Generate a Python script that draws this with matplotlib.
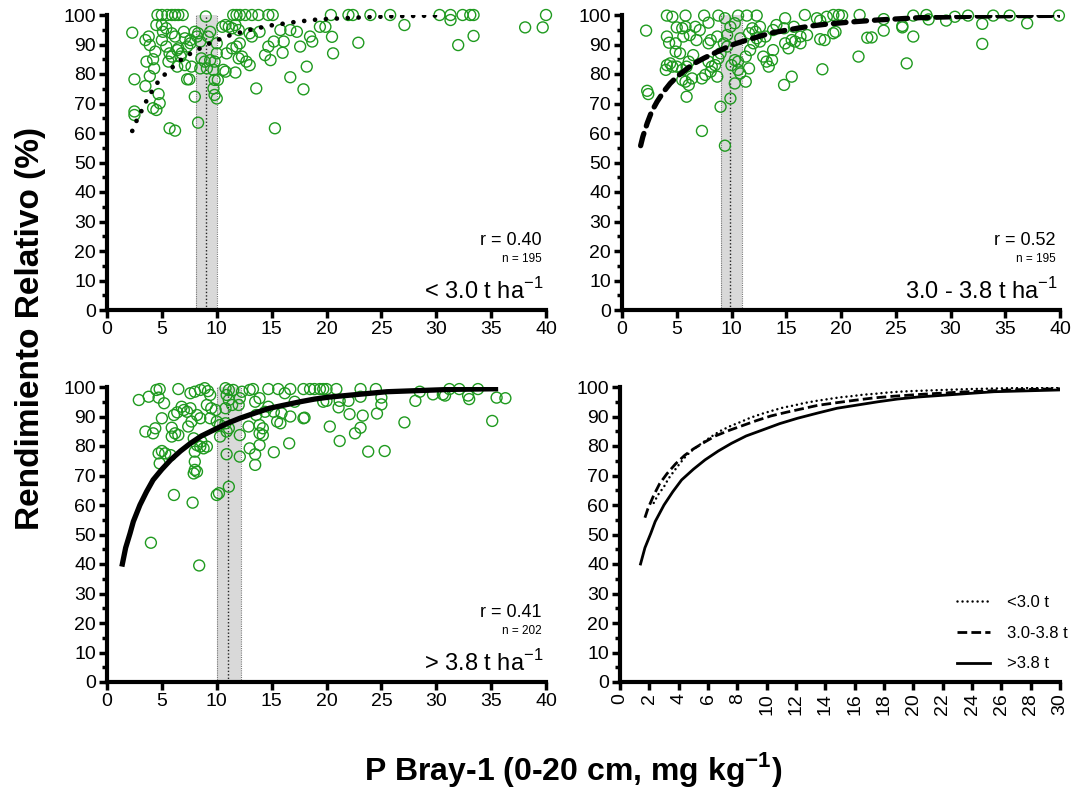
import numpy as np
import matplotlib
matplotlib.use("Agg")
import matplotlib.pyplot as plt
from matplotlib.ticker import MultipleLocator

plt.rcParams['font.family'] = ['Liberation Sans', 'DejaVu Sans']
plt.rcParams['mathtext.fontset'] = 'custom'
plt.rcParams['mathtext.rm'] = 'Liberation Sans'
plt.rcParams['mathtext.bf'] = 'Liberation Sans:bold'

# ---- scatter data ----
# < 3.0 t ha-1
p1_x = [4.6, 5.0, 5.5, 5.9, 6.2, 6.5, 6.9, 9.0, 11.5, 11.8, 12.1, 12.6, 13.2, 13.8, 14.7, 15.1,
        20.4, 22.0, 22.4, 24.0, 25.8, 30.3, 31.3, 32.4, 33.1, 33.4, 40.0,
        2.3, 2.5, 2.5, 2.5, 3.5, 3.8, 3.9, 3.6, 4.4, 4.2, 4.3, 3.5, 3.9, 4.7, 4.8, 4.2, 4.5, 4.5,
        5.1, 5.0, 5.4, 5.9, 5.0, 5.4, 5.7, 5.6, 5.9, 6.2, 6.4, 6.5, 6.7, 6.8, 6.4,
        7.0, 7.1, 7.6, 7.3, 7.6, 7.1, 7.7, 7.3, 7.5, 8.0, 8.3, 8.2, 8.5, 8.0, 5.7, 6.2, 8.3, 8.6, 8.5,
        9.2, 9.4, 8.9, 9.4, 9.1, 9.7, 10.0, 10.0, 9.8, 9.8, 10.1, 9.7, 9.8, 10.0,
        10.5, 10.8, 10.6, 10.8, 11.1, 11.4, 11.7, 12.0, 10.9, 11.4, 11.8, 12.1, 12.0, 12.3, 12.7, 13.0, 11.7,
        13.0, 13.2, 13.9, 13.6, 14.4, 14.9, 15.2, 14.7, 15.8, 16.1, 16.7, 17.3, 17.6, 16.0, 16.7, 17.9,
        18.2, 18.5, 18.7, 19.4, 15.3,
        19.9, 20.5, 22.9, 20.6, 32.0, 33.4, 38.1, 39.7, 31.3, 27.1]
p1_y = [100, 100, 100, 100, 100, 100, 100, 99.5, 100, 100, 100, 100, 100, 100, 100, 100,
        100, 100, 100, 100, 100, 100, 100, 100, 100, 100, 100,
        94.0, 78.2, 67.3, 66.1, 91.5, 92.7, 89.8, 84.2, 87.6, 85.0, 81.9, 75.9, 79.3, 73.2, 70.1, 68.4, 67.8, 96.6,
        94.3, 96.6, 95.5, 93.8, 91.5, 89.3, 87.0, 84.2, 85.9, 92.7, 88.1, 88.7, 85.9, 87.0, 82.5,
        94.3, 92.1, 91.5, 89.3, 90.4, 83.0, 82.5, 78.2, 78.2, 94.3, 93.8, 92.7, 91.0, 72.3, 61.6, 60.8, 63.5, 85.3, 81.9,
        92.7, 94.3, 84.2, 84.7, 81.9, 81.4, 90.4, 87.0, 84.2, 78.0, 78.0, 75.1, 72.9, 71.7,
        96.0, 96.6, 81.4, 80.8, 96.0, 95.5, 96.6, 94.9, 87.0, 88.7, 89.3, 90.4, 85.3, 85.9, 84.2, 83.0, 80.5,
        93.8, 92.7, 94.3, 75.1, 86.4, 84.7, 91.0, 89.3, 94.9, 91.0, 94.9, 94.3, 89.3, 87.2, 78.9, 74.8,
        82.5, 92.7, 91.0, 96.0, 61.6,
        96.0, 92.6, 90.6, 87.0, 89.8, 92.9, 95.8, 95.8, 98.3, 96.6]

# 3.0 - 3.8 t ha-1
p2_x = [2.2, 2.3, 2.4, 4.1, 4.6, 5.8, 7.5, 8.8, 9.4, 10.6, 11.4, 12.3,
        5.0, 5.5, 5.8, 6.7, 4.1, 4.3, 4.9, 5.6, 6.2, 7.1, 7.9, 4.9, 5.3,
        4.1, 4.4, 4.6, 4.0, 5.0, 5.5, 5.9, 6.1, 6.5, 5.5, 5.8, 6.1, 6.4, 5.9,
        6.8, 7.9, 8.1, 8.7, 7.3, 7.6, 8.1, 8.2, 8.5, 8.7, 7.9, 8.8, 9.0,
        9.3, 9.6, 9.9, 10.3, 9.6, 10.0, 10.3, 10.6, 10.6, 10.8, 10.3, 11.3, 9.9, 9.0, 7.3, 9.4,
        10.8, 11.6, 11.9, 12.2, 12.6, 11.3, 11.7, 12.0, 12.3, 12.6, 11.6, 12.9, 13.2, 13.4, 13.7, 13.8,
        13.1, 13.8, 14.1, 14.9, 14.8, 15.7, 14.8, 15.5, 14.9, 15.2, 15.5, 15.8, 16.3, 16.9, 16.3,
        16.7, 17.8, 18.1, 18.7, 19.3, 19.8, 19.5, 19.3, 18.1, 18.5, 18.3,
        20.1, 21.7, 21.6, 22.4, 22.8, 23.9, 23.9, 25.6, 25.6, 26.0, 26.6, 26.6, 27.8, 28.0, 29.6,
        30.4, 31.6, 32.9, 32.9, 33.9, 35.4, 37.0, 39.9]
p2_y = [94.7, 74.3, 73.2, 99.8, 99.4, 99.8, 99.8, 99.8, 98.9, 99.8, 99.8, 99.8,
        95.8, 95.5, 96.0, 96.0, 92.7, 90.6, 90.4, 92.7, 93.2, 94.9, 97.4, 87.6, 87.0,
        83.0, 83.6, 82.5, 81.4, 82.5, 81.4, 82.5, 84.2, 86.4, 78.0, 77.4, 76.3, 78.5, 72.3,
        91.5, 90.4, 91.5, 92.7, 78.5, 79.7, 80.8, 82.5, 83.0, 79.1, 84.2, 85.3, 87.0,
        90.4, 93.2, 96.0, 97.2, 89.3, 83.0, 84.7, 84.2, 81.4, 80.2, 76.8, 77.4, 71.7, 68.9, 60.7, 55.7,
        92.1, 93.8, 95.5, 94.3, 96.0, 85.9, 88.1, 90.4, 92.1, 91.0, 81.9, 85.9, 84.2, 82.5, 84.7, 88.1,
        92.7, 94.9, 96.6, 98.9, 95.5, 96.0, 76.3, 79.1, 90.4, 88.7, 91.5, 91.0, 90.4, 93.2, 92.7,
        100, 98.9, 98.1, 99.4, 100, 100, 94.3, 93.8, 91.8, 91.5, 81.6,
        99.8, 100, 85.9, 92.3, 92.4, 98.6, 94.7, 96.3, 95.8, 83.6, 99.8, 92.7, 100, 98.5, 98.1,
        99.4, 99.8, 97.0, 90.2, 99.8, 99.8, 97.2, 99.8]

# > 3.8 t ha-1
p3_x = [2.9, 3.8, 4.5, 4.8, 4.7, 5.2, 6.5, 3.5, 4.2, 4.4,
        5.0, 5.9, 6.1, 6.4, 6.8, 7.0, 5.9, 6.2, 6.5, 4.7, 5.0, 5.3, 5.8, 4.8, 6.1, 7.8,
        7.6, 8.0, 8.5, 8.9, 9.2, 9.4, 7.3, 7.6, 8.2, 8.5, 7.7, 7.4,
        7.9, 8.2, 8.5, 8.8, 9.1, 8.0, 8.6, 8.0, 8.0, 8.2, 7.9,
        9.1, 9.5, 9.9, 9.4, 10.0, 10.3, 10.0, 10.2, 11.1,
        10.8, 11.1, 11.5, 10.9, 11.1, 11.4, 10.8, 10.8, 11.1, 10.9, 10.3, 10.9, 12.0, 12.3, 12.1, 12.1, 12.1,
        13.0, 13.3, 13.5, 13.9, 13.6, 14.4, 14.7, 12.9, 13.9, 14.2, 13.9, 14.2, 13.0, 13.5, 13.9, 13.5, 15.2,
        14.7, 15.6, 16.7, 15.2, 15.5, 15.8, 15.9, 16.7, 16.2, 16.6, 17.1, 17.9, 18.5, 18.9, 19.4, 20.0,
        19.7, 17.9, 18.0, 20.3,
        19.7, 20.9, 20.0, 21.2, 22.0, 21.1, 22.1, 21.2, 22.6, 23.1, 23.3, 23.1, 23.1, 23.8, 25.3, 24.6,
        25.0, 25.0, 24.5, 27.1, 28.1, 28.5, 29.7, 30.6, 30.8, 31.2, 32.1, 32.9, 33.0, 33.8, 35.1, 35.5, 36.3,
        4.0, 8.4]
p3_y = [95.6, 96.7, 99.0, 99.3, 96.4, 94.5, 99.3, 84.9, 84.3, 86.0,
        89.4, 86.2, 90.5, 91.4, 93.3, 92.2, 83.2, 84.3, 83.7, 77.5, 78.3, 77.5, 76.9, 74.1, 63.4, 60.8,
        97.9, 98.4, 99.0, 99.6, 98.6, 97.3, 91.6, 92.8, 90.5, 89.4, 88.3, 86.6,
        82.6, 80.3, 79.8, 79.2, 79.8, 78.1, 81.5, 74.7, 71.9, 71.3, 70.7,
        93.9, 92.8, 92.2, 89.4, 88.3, 87.1, 63.4, 64.0, 66.2,
        99.6, 99.0, 99.0, 97.3, 95.6, 93.9, 92.8, 87.7, 86.0, 84.9, 83.2, 77.2, 93.9, 98.4, 96.2, 83.7, 76.4,
        99.0, 99.3, 95.0, 96.2, 90.5, 91.6, 93.3, 86.6, 87.1, 86.0, 84.3, 83.7, 79.2, 77.2, 80.3, 73.6, 77.9,
        99.3, 99.3, 99.3, 91.6, 88.3, 87.7, 91.1, 90.0, 97.9, 80.9, 95.0, 99.3, 99.3, 99.3, 99.3, 99.3,
        95.0, 89.4, 89.6, 86.6,
        99.3, 99.3, 95.3, 95.3, 95.3, 93.1, 90.8, 81.7, 84.3, 86.2, 90.3, 96.7, 99.3, 78.1, 78.3, 91.0,
        94.1, 96.4, 99.3, 88.0, 95.3, 98.4, 97.5, 97.5, 97.1, 99.3, 99.3, 97.1, 95.9, 99.3, 88.5, 96.4, 96.2,
        47.2, 39.5]

# ---- fitted curves ----
c1_x = [2.3, 2.6, 3.0, 3.3, 3.7, 4.1, 4.5, 5.0, 5.6, 6.2, 6.8, 7.5, 8.2, 8.9, 9.6, 10.4, 11.1,
        11.9, 12.6, 13.4, 14.2, 15.0, 15.8, 16.6, 17.4, 18.2, 19.0, 19.8, 21.5, 23.8, 26.5, 30.0]
c1_y = [60.7, 63.5, 66.2, 68.9, 71.6, 74.2, 76.6, 78.9, 81.0, 83.1, 85.0, 86.7, 88.1, 89.6, 90.8,
        92.0, 93.0, 93.8, 94.6, 95.3, 95.9, 96.5, 96.9, 97.4, 97.7, 98.1, 98.4, 98.6, 98.9, 99.3, 99.6, 99.8]
c2_x = [1.7, 1.9, 2.3, 2.7, 3.2, 3.8, 4.4, 5.0, 5.8, 6.5, 7.5, 8.4, 9.3, 10.3, 11.4, 12.5, 13.5,
        14.8, 16.0, 17.3, 18.7, 20.8, 23.3, 27.2, 32.1, 36.0, 40.0]
c2_y = [55.7, 58.7, 63.3, 67.2, 70.6, 74.0, 76.8, 79.0, 81.4, 83.4, 85.4, 87.0, 88.6, 90.2, 91.5,
        92.7, 93.8, 94.7, 95.5, 96.3, 96.9, 97.6, 98.3, 99.1, 99.6, 99.8, 99.9]
c3_x = [1.4, 1.7, 2.1, 2.4, 3.0, 3.6, 4.2, 5.0, 5.8, 6.7, 7.6, 8.6, 9.7, 10.9, 12.1, 13.5, 14.8,
        16.2, 17.6, 18.9, 20.3, 25.5, 31.5, 35.4]
c3_y = [40.0, 45.5, 50.4, 54.4, 60.0, 64.5, 68.5, 72.1, 75.3, 78.3, 80.9, 83.4, 85.4, 87.6, 89.4,
        91.2, 92.8, 93.9, 95.0, 95.9, 96.6, 98.4, 99.2, 99.4]

# critical ranges (low, centre, high)
bands = [(8.1, 9.0, 10.0), (9.0, 9.9, 11.0), (10.0, 11.0, 12.2)]
r_vals = ['r = 0.40', 'r = 0.52', 'r = 0.41']
n_vals = ['n = 195', 'n = 195', 'n = 202']
groups = [r'< 3.0 t ha$^{-1}$', r'3.0 - 3.8 t ha$^{-1}$', r'> 3.8 t ha$^{-1}$']
legend_labels = ['<3.0 t', '3.0-3.8 t', '>3.8 t']

green = '#1f9a1f'
W, H = 1080, 791
fig = plt.figure(figsize=(W / 100, H / 100), dpi=100)


def make_ax(left, top, right, bottom):
    return fig.add_axes([left / W, 1 - bottom / H, (right - left) / W, (bottom - top) / H])


def style(ax, xmax, xstep):
    for s in ['top', 'right']:
        ax.spines[s].set_visible(False)
    for s in ['left', 'bottom']:
        ax.spines[s].set_linewidth(3.0)
    ax.set_xlim(0, xmax)
    ax.set_ylim(0, 100)
    ax.xaxis.set_major_locator(MultipleLocator(xstep))
    ax.yaxis.set_major_locator(MultipleLocator(10))
    ax.yaxis.set_minor_locator(MultipleLocator(5))
    ax.tick_params(axis='both', which='major', direction='out', length=6, width=2.5,
                   labelsize=14, pad=2)
    ax.tick_params(axis='y', which='minor', direction='out', length=3.5, width=2.5)
    ax.tick_params(axis='x', which='minor', bottom=False)


ax1 = make_ax(107, 15, 546, 310)
ax2 = make_ax(622, 15, 1060, 310)
ax3 = make_ax(107, 387, 546, 682)
ax4 = make_ax(620, 387, 1060, 682)

scatter_sets = [(p1_x, p1_y), (p2_x, p2_y), (p3_x, p3_y)]
curves = [(c1_x, c1_y), (c2_x, c2_y), (c3_x, c3_y)]
big_styles = [dict(linestyle=(0, (0.01, 2.3)), linewidth=3.4, dash_capstyle='round'),
              dict(linestyle=(0, (2.4, 1.5)), linewidth=3.8, dash_capstyle='round'),
              dict(linestyle='-', linewidth=3.8)]

for ax, (sx, sy), (cx, cy), st, band, rv, nv, gl in zip(
        [ax1, ax2, ax3], scatter_sets, curves, big_styles, bands, r_vals, n_vals, groups):
    style(ax, 40, 5)
    lo, mid, hi = band
    ax.fill_between([lo, hi], 0, 100, color='#d9d9d9', zorder=1, linewidth=0)
    for xv in (lo, hi):
        ax.plot([xv, xv], [0, 100], color='#777777', linestyle=(0, (1, 1)), linewidth=0.8, zorder=2)
    ax.plot([mid, mid], [0, 100], color='#222222', linestyle=(0, (1, 1.5)), linewidth=1.0, zorder=2)
    ax.scatter(sx, sy, s=62, facecolors='none', edgecolors=green, linewidths=1.0,
               zorder=3, clip_on=False)
    ax.plot(cx, cy, color='black', zorder=4, **st)
    ax.text(39.6, 23.7, rv, ha='right', va='center', fontsize=13)
    ax.text(39.6, 17.3, nv, ha='right', va='center', fontsize=8.5)
    ax.text(39.8, 6.5, gl, ha='right', va='center', fontsize=17)

# comparison panel
style(ax4, 30, 2)
ax4.plot(c1_x, c1_y, color='black', linestyle=(0, (0.01, 2.0)), linewidth=1.8,
         dash_capstyle='round', label=legend_labels[0])
ax4.plot(c2_x, c2_y, color='black', linestyle=(0, (3.5, 1.5)), linewidth=2.0,
         label=legend_labels[1])
ax4.plot(c3_x, c3_y, color='black', linestyle='-', linewidth=2.0, label=legend_labels[2])
for lab in ax4.get_xticklabels():
    lab.set_rotation(90)
ax4.legend(loc='center left', bbox_to_anchor=(0.766, 0.166), frameon=False, fontsize=12,
           handlelength=2.0, labelspacing=0.95, handletextpad=1.0, borderpad=0,
           borderaxespad=0)

fig.text(0.028, 0.585, 'Rendimiento Relativo (%)', rotation=90, ha='center', va='center',
         fontsize=24, fontweight='bold')
fig.text(0.531, 0.027, r'P Bray-1 (0-20 cm, mg kg$^{\mathbf{-1}}$)', ha='center', va='center',
         fontsize=23, fontweight='bold')

fig.savefig('out.png', dpi=100)
